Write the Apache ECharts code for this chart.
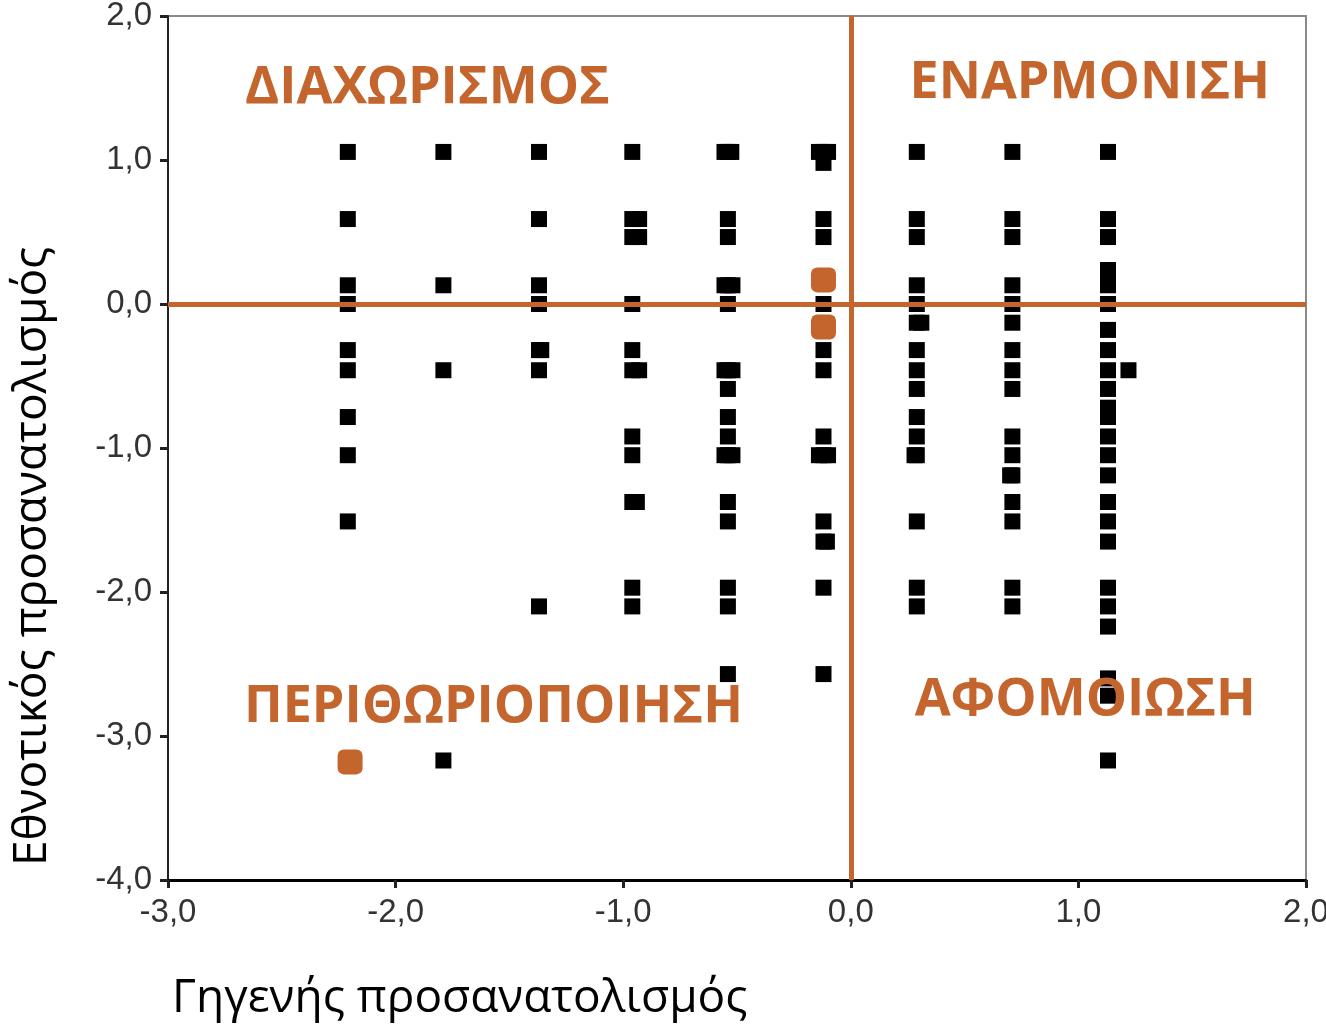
<!DOCTYPE html>
<html>
<head>
<meta charset="utf-8">
<script src="https://cdn.jsdelivr.net/npm/echarts@6/dist/echarts.min.js"></script>
<style>html,body{margin:0;padding:0;background:#fff}#c{width:1326px;height:1028px}</style>
</head>
<body>
<div id="c"></div>
<script>
// Column x positions (Γηγενής προσανατολισμός)
const colX = [-2.21, -1.79, -1.37, -0.96, -0.54, -0.12, 0.29, 0.71, 1.13];
// y values (Εθνοτικός προσανατολισμός) per column
const colY = [
  [1.056, 0.59, 0.13, 0.0, -0.32, -0.46, -0.785, -1.05, -1.51],
  [1.056, 0.13, -0.46, -3.17],
  [1.056, 0.59, 0.13, 0.0, -0.32, -0.46, -2.1],
  [1.056, 0.59, 0.465, 0.0, -0.32, -0.46, -0.92, -1.05, -1.375, -1.97, -2.1],
  [1.056, 0.59, 0.465, 0.13, 0.0, -0.46, -0.59, -0.785, -0.92, -1.05, -1.375, -1.51, -1.97, -2.1, -2.57],
  [1.056, 0.98, 0.59, 0.465, 0.0, -0.32, -0.46, -0.92, -1.05, -1.51, -1.65, -1.97, -2.57],
  [1.056, 0.59, 0.465, 0.13, 0.0, -0.13, -0.32, -0.46, -0.59, -0.785, -0.92, -1.05, -1.51, -1.97, -2.1],
  [1.056, 0.59, 0.465, 0.13, 0.0, -0.13, -0.32, -0.46, -0.59, -0.92, -1.05, -1.19, -1.375, -1.51, -1.97, -2.1],
  [1.056, 0.59, 0.465, 0.236, 0.13, 0.0, -0.18, -0.32, -0.46, -0.59, -0.72, -0.785, -0.92, -1.05, -1.19, -1.375, -1.51, -1.65, -1.97, -2.1, -2.24, -2.6, -2.72, -3.17]
];
// extra overlapping / offset points
const extraPoints = [
  [-0.555, 1.056], [-0.525, 1.056], [-0.555, 0.13], [-0.52, 0.13], [-0.555, -0.46], [-0.52, -0.46],
  [-0.555, -1.05], [-0.52, -1.05], [-0.93, 0.59], [-0.93, 0.465], [-0.93, -0.46], [-0.94, -1.375],
  [-0.14, 1.056], [-0.10, 1.056], [-0.14, -1.05], [-0.10, -1.05], [-0.105, -1.65],
  [-1.36, -0.32], [0.31, -0.13], [0.28, -1.05], [0.70, -1.19], [1.22, -0.46]
];
// highlighted (orange) points
const highlightPoints = [[-0.12, 0.167], [-0.12, -0.16], [-2.2, -3.18]];
// quadrant labels [x, y, text]
const quadLabels = [
  [-1.86, 1.5, 'ΔΙΑΧΩΡΙΣΜΟΣ'],
  [1.05, 1.53, 'ΕΝΑΡΜΟΝΙΣΗ'],
  [-1.57, -2.8, 'ΠΕΡΙΘΩΡΙΟΠΟΙΗΣΗ'],
  [1.03, -2.75, 'ΑΦΟΜΟΙΩΣΗ']
];
const xTitle = 'Γηγενής προσανατολισμός';
const yTitle = 'Εθνοτικός προσανατολισμός';
const ORANGE = '#C4652E';

const blackData = [];
colX.forEach((x, i) => colY[i].forEach(y => blackData.push([x, y])));
extraPoints.forEach(p => blackData.push(p));

const fmt = v => v.toFixed(1).replace('.', ',');

const chart = echarts.init(document.getElementById('c'));
chart.setOption({
  animation: false,
  grid: { left: 168, right: 20, top: 16, bottom: 148, show: true, borderColor: '#8a8a8a', borderWidth: 2, containLabel: false, outerBoundsMode: 'none' },
  xAxis: {
    type: 'value', min: -3, max: 2, interval: 1,
    axisLine: { show: true, onZero: false, lineStyle: { color: '#000', width: 3 } },
    axisTick: { show: true, length: 8, lineStyle: { color: '#222', width: 3 } },
    axisLabel: { formatter: fmt, color: '#333', fontSize: 33, fontFamily: 'Liberation Sans', margin: 16, hideOverlap: false },
    splitLine: { show: false }
  },
  yAxis: {
    type: 'value', min: -4, max: 2, interval: 1,
    axisLine: { show: true, onZero: false, lineStyle: { color: '#222', width: 2 } },
    axisTick: { show: true, length: 8, lineStyle: { color: '#222', width: 3 } },
    axisLabel: { formatter: fmt, color: '#333', fontSize: 33, fontFamily: 'Liberation Sans', margin: 16 },
    splitLine: { show: false }
  },
  graphic: [
    { type: 'text', left: 172, top: 976, style: { text: xTitle, fontSize: 46, fontFamily: 'Open Sans', fill: '#000' } },
    { type: 'text', x: 10, y: 866, rotation: Math.PI / 2, style: { text: yTitle, fontSize: 46, fontFamily: 'Open Sans', fill: '#000' } }
  ],
  series: [
    {
      type: 'scatter', symbol: 'rect', symbolSize: 16, z: 3,
      itemStyle: { color: '#000', opacity: 1 }, data: blackData,
      markLine: {
        silent: true, symbol: 'none', z: 4,
        label: { show: false },
        lineStyle: { color: ORANGE, width: 5, type: 'solid', opacity: 1 },
        data: [{ xAxis: 0 }, { yAxis: 0 }]
      }
    },
    {
      type: 'scatter', symbol: 'roundRect', symbolSize: 25, z: 5,
      itemStyle: { color: ORANGE, opacity: 1 }, data: highlightPoints
    },
    {
      type: 'scatter', symbolSize: 0, z: 6, silent: true,
      itemStyle: { opacity: 1 },
      data: quadLabels.map(d => ({ value: [d[0], d[1]], name: d[2] })),
      label: {
        show: true, position: 'inside', formatter: p => p.name,
        color: ORANGE, fontSize: 52, fontWeight: 'bold', fontFamily: 'Open Sans'
      }
    }
  ]
});
</script>
</body>
</html>
